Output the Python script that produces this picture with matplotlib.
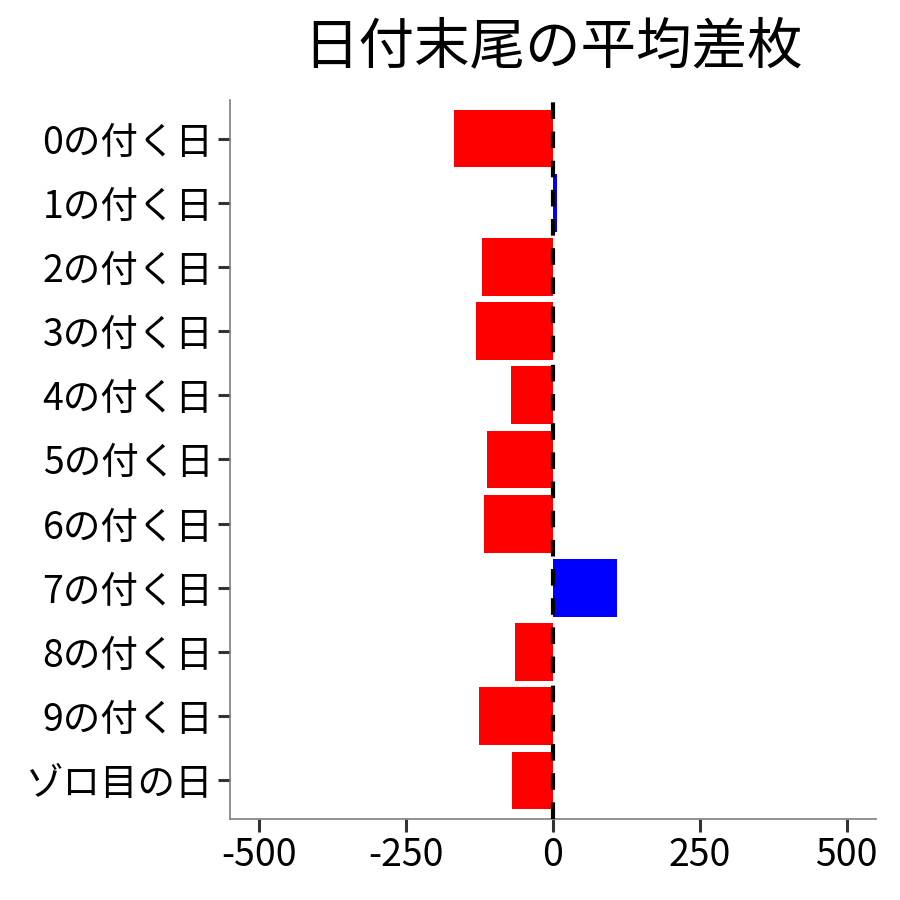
import numpy as np
import matplotlib
matplotlib.use("Agg")
import matplotlib.pyplot as plt

plt.rcParams["font.family"] = ["Noto Sans CJK JP", "DejaVu Sans"]

# ── データ ──
labels = ["0の付く日", "1の付く日", "2の付く日", "3の付く日", "4の付く日",
          "5の付く日", "6の付く日", "7の付く日", "8の付く日", "9の付く日", "ゾロ目の日"]
diffs = [-168, 6, -121, -131, -71, -112, -117, 109, -65, -126, -70]
xticks = [-500, -250, 0, 250, 500]
title = "日付末尾の平均差枚"

colors = ["blue" if v > 0 else "red" for v in diffs]
ypos = np.arange(len(labels))

fig = plt.figure(figsize=(9, 9), dpi=100)
ax = fig.add_axes([230 / 900, 1 - 819 / 900, (876 - 230) / 900, (819 - 100) / 900])

ax.barh(ypos, diffs, height=0.9, color=colors, zorder=2)
ax.axvline(0, color="black", linestyle=(0, (4, 3)), linewidth=3, zorder=3)

ax.set_xlim(-550, 550)
ax.set_ylim(len(labels) - 0.4, -0.6)
ax.set_yticks(ypos)
ax.set_yticklabels(labels)
ax.set_xticks(xticks)
ax.set_xticklabels([str(x) for x in xticks])

ax.tick_params(axis="both", labelsize=27, colors="#333333", labelcolor="black",
               length=9, width=2.2, pad=3)
for s in ["top", "right"]:
    ax.spines[s].set_visible(False)
for s in ["left", "bottom"]:
    ax.spines[s].set_color("#7f7f7f")
    ax.spines[s].set_linewidth(1.2)

fig.text(553 / 900, 1 - 47 / 900, title, fontsize=40, ha="center", va="center")

fig.savefig("out.png", dpi=100)
